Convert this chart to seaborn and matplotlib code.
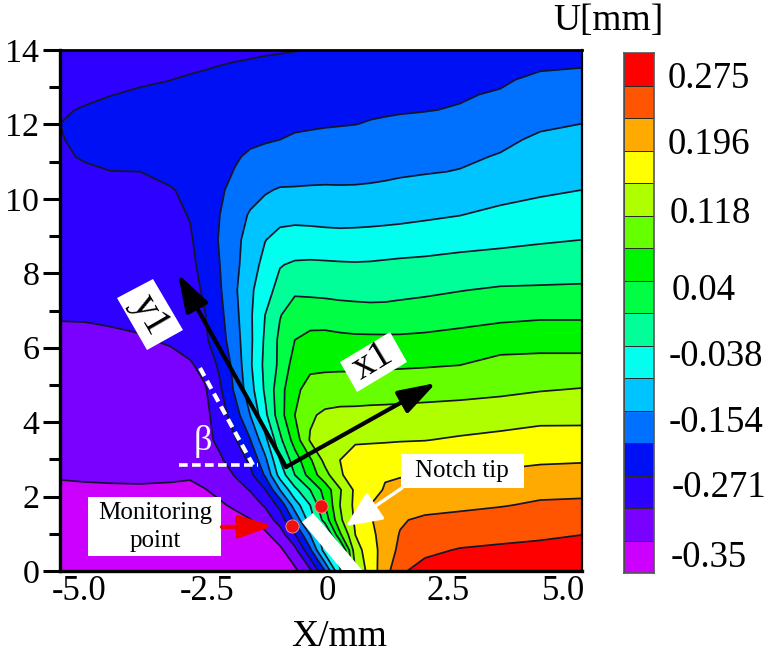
import numpy as np
import matplotlib
matplotlib.use("Agg")
import matplotlib.pyplot as plt
from matplotlib.colors import ListedColormap, BoundaryNorm
from matplotlib.patches import Polygon, Rectangle
from matplotlib.transforms import Affine2D
import seaborn as sns

# Sampling positions of the displacement field
x_mm = [-5.52, -5.0, -4.48, -3.85, -3.23, -2.81, -2.5, -2.19, -1.88, -1.56, -1.25, -0.94, -0.63,
        -0.31, 0.0, 0.31, 0.63, 0.94, 1.25, 1.56, 2.08, 2.81, 3.65, 4.48, 5.35]
y_mm = [14.0, 13.6, 13.2, 12.8, 12.39, 12.02, 11.59, 11.13, 10.73, 10.24, 9.57, 8.9, 8.23, 7.55,
        6.88, 6.21, 5.54, 4.87, 4.19, 3.52, 2.98, 2.58, 2.18, 1.77, 1.37, 0.97, 0.56, 0.0]

# Field expressed in contour-band units (0 = U_MIN, one unit = U_STEP), one list per height
r_14_00 = [2.5,2.5,2.5,2.6,2.6,2.65,2.7,2.75,2.8,2.85,2.9,2.93,2.97,3.0,3.05,3.1,3.15,3.2,3.25,3.3,3.35,3.4,3.5,3.6,3.7]
r_13_60 = [2.6,2.65,2.7,2.75,2.8,2.87,2.93,2.99,3.05,3.1,3.15,3.2,3.25,3.3,3.35,3.4,3.43,3.45,3.5,3.55,3.6,3.7,3.8,3.85,3.95]
r_13_20 = [2.7,2.75,2.8,2.9,2.99,3.08,3.13,3.18,3.22,3.27,3.3,3.34,3.38,3.42,3.46,3.5,3.53,3.56,3.6,3.63,3.68,3.75,3.88,4.2,4.2]
r_12_80 = [2.8,2.88,2.98,3.1,3.18,3.25,3.3,3.35,3.4,3.43,3.47,3.5,3.53,3.57,3.6,3.63,3.67,3.7,3.74,3.78,3.83,3.93,4.08,4.38,4.45]
r_12_39 = [2.93,3.05,3.2,3.3,3.35,3.4,3.45,3.5,3.55,3.6,3.63,3.66,3.69,3.72,3.76,3.8,3.84,3.87,3.9,3.93,3.97,4.05,4.3,4.62,4.72]
r_12_02 = [3.0,3.2,3.35,3.45,3.5,3.55,3.6,3.65,3.7,3.75,3.78,3.82,3.87,3.9,3.93,3.95,3.98,4.05,4.1,4.15,4.2,4.33,4.55,4.88,5.0]
r_11_59 = [2.95,3.2,3.35,3.45,3.55,3.6,3.65,3.7,3.8,3.88,3.94,4.0,4.1,4.15,4.2,4.25,4.28,4.3,4.35,4.4,4.5,4.65,4.85,5.12,5.25]
r_11_13 = [2.8,3.12,3.28,3.4,3.5,3.6,3.7,3.8,3.93,4.1,4.2,4.3,4.37,4.42,4.47,4.5,4.53,4.57,4.6,4.65,4.75,4.88,5.05,5.35,5.5]
r_10_73 = [2.6,2.8,2.98,3.0,3.25,3.45,3.6,3.8,4.03,4.3,4.45,4.55,4.65,4.7,4.75,4.78,4.8,4.83,4.87,4.9,4.95,5.03,5.25,5.55,5.75]
r_10_24 = [2.4,2.5,2.6,2.75,2.93,3.2,3.5,3.85,4.3,4.6,4.9,5.08,5.08,5.1,5.1,5.08,5.08,5.1,5.13,5.2,5.3,5.42,5.6,5.82,6.0]
r_09_57 = [2.3,2.35,2.45,2.55,2.75,3.05,3.5,4.0,4.55,5.1,5.4,5.7,5.72,5.68,5.65,5.62,5.65,5.68,5.72,5.76,5.85,5.98,6.25,6.45,6.5]
r_08_90 = [2.25,2.28,2.35,2.45,2.65,2.9,3.45,4.08,4.75,5.35,5.97,6.3,6.4,6.4,6.35,6.33,6.33,6.35,6.38,6.42,6.5,6.65,6.78,6.9,7.0]
r_08_23 = [2.2,2.22,2.3,2.4,2.55,2.8,3.3,4.0,4.75,5.55,6.3,6.95,7.12,7.15,7.13,7.1,7.08,7.1,7.15,7.2,7.25,7.35,7.42,7.5,7.55]
r_07_55 = [2.15,2.18,2.22,2.3,2.45,2.65,3.15,3.9,4.85,5.8,6.65,7.3,7.85,7.8,7.75,7.72,7.7,7.7,7.75,7.8,7.85,7.97,8.1,8.12,8.15]
r_06_88 = [2.1,2.1,2.13,2.2,2.35,2.55,2.97,3.75,4.7,5.85,7.0,7.95,8.45,8.5,8.5,8.4,8.35,8.3,8.27,8.3,8.4,8.55,8.75,8.85,8.85]
r_06_21 = [1.7,1.75,1.85,1.93,2.1,2.4,2.85,3.6,4.55,5.8,7.15,8.2,9.0,9.3,9.32,9.25,9.2,9.2,9.2,9.2,9.25,9.4,9.55,9.6,9.6]
r_05_54 = [1.5,1.5,1.55,1.6,1.7,1.9,2.3,3.2,4.3,5.85,7.25,8.2,9.45,9.85,9.85,9.85,9.85,9.85,9.88,9.9,9.93,9.99,10.3,10.35,10.35]
r_04_87 = [1.4,1.4,1.42,1.45,1.55,1.65,1.9,2.85,4.15,5.6,7.15,8.6,9.85,10.25,10.35,10.4,10.4,10.45,10.5,10.5,10.55,10.65,10.8,10.95,11.05]
r_04_19 = [1.35,1.35,1.38,1.4,1.45,1.55,1.75,2.5,3.5,5.0,6.75,8.6,10.0,10.85,11.2,11.3,11.32,11.35,11.35,11.4,11.45,11.5,11.55,11.7,11.75]
r_03_52 = [1.3,1.3,1.33,1.35,1.4,1.5,1.7,2.25,2.9,3.95,5.7,7.75,9.45,11.1,11.55,11.8,11.88,11.9,11.92,11.95,11.98,12.1,12.25,12.4,12.35]
r_02_98 = [1.25,1.25,1.25,1.28,1.3,1.4,1.6,1.85,2.5,3.15,4.75,7.0,8.5,9.85,11.3,12.0,12.4,12.45,12.5,12.55,12.58,12.63,12.7,12.85,12.92]
r_02_58 = [1.1,1.15,1.15,1.15,1.12,1.08,1.2,1.5,2.05,2.75,4.1,6.4,8.0,9.4,10.65,11.85,12.6,12.8,12.9,12.93,12.97,13.05,13.2,13.35,13.35]
r_02_18 = [0.8,0.83,0.88,0.9,0.88,0.85,0.98,1.15,1.6,2.05,2.95,5.0,6.75,8.0,9.4,10.9,12.2,12.55,13.1,13.3,13.4,13.5,13.6,13.7,13.75]
r_01_77 = [0.6,0.62,0.65,0.68,0.7,0.72,0.75,0.92,1.1,1.55,2.1,3.3,5.5,7.0,9.0,11.0,12.25,13.0,13.3,13.4,13.6,13.75,13.93,14.15,14.2]
r_01_37 = [0.45,0.47,0.5,0.53,0.55,0.58,0.6,0.68,0.8,0.95,1.45,2.4,4.25,6.5,8.4,10.8,12.15,12.9,13.5,13.9,14.2,14.35,14.5,14.7,14.8]
r_00_97 = [0.3,0.32,0.35,0.35,0.4,0.42,0.45,0.5,0.55,0.62,0.8,1.5,2.9,5.0,6.6,9.8,12.0,12.7,13.5,14.05,14.3,14.4,14.55,14.75,15.0]
r_00_56 = [0.25,0.25,0.25,0.28,0.3,0.3,0.33,0.35,0.4,0.45,0.55,0.8,1.7,3.8,6.5,7.5,11.6,12.5,13.5,14.2,14.7,15.1,15.3,15.45,15.55]
r_00_00 = [0.2,0.2,0.2,0.22,0.22,0.25,0.25,0.28,0.3,0.33,0.38,0.5,0.8,1.8,4.0,6.9,11.0,12.45,13.6,14.8,15.5,15.6,15.65,15.7,15.75]

U_MIN = -0.35
U_STEP = 0.039
N_BANDS = 16

# Band colours from the lowest to the highest displacement
band_colors = ["#cc00ff", "#7a00ff", "#2e00ff", "#0010f5", "#0070ff", "#00c4ff", "#00ffee", "#00ff99",
               "#00ff44", "#00f500", "#66ff00", "#b0ff00", "#ffff00", "#ffaa00", "#ff5500", "#ff0000"]

colorbar_labels = ["0.275", "0.196", "0.118", "0.04", "-0.038", "-0.154", "-0.271", "-0.35"]
colorbar_label_x = [668, 668, 670, 672, 669, 669, 672, 671]
colorbar_label_y = [79, 145, 214, 291, 357, 423, 488, 558]

x_tick_labels = ["-5.0", "-2.5", "0", "2.5", "5.0"]
x_tick_pos = [-5.12, -2.46, 0.04, 2.56, 4.96]
y_major = [0, 2, 4, 6, 8, 10, 12, 14]
y_minor = [1, 3, 5, 7, 9, 11, 13]

sns.set_theme(style="ticks")
plt.rcParams["font.family"] = ["Liberation Serif", "DejaVu Serif"]

W, H = 768, 655
fig = plt.figure(figsize=(W / 100, H / 100), dpi=100, facecolor="white")
ax = fig.add_axes([60 / W, 1 - 571 / H, (582 - 60) / W, (571 - 50) / H])

# Overlay annotations are placed in figure pixels measured from the top-left corner
px = Affine2D().scale(1 / W, -1 / H).translate(0, 1) + fig.transFigure

rows = [r_14_00, r_13_60, r_13_20, r_12_80, r_12_39, r_12_02, r_11_59, r_11_13, r_10_73, r_10_24,
        r_09_57, r_08_90, r_08_23, r_07_55, r_06_88, r_06_21, r_05_54, r_04_87, r_04_19, r_03_52,
        r_02_98, r_02_58, r_02_18, r_01_77, r_01_37, r_00_97, r_00_56, r_00_00]
U = U_MIN + U_STEP * np.array(rows)[::-1]
Y = np.array(y_mm)[::-1]
levels = U_MIN + U_STEP * np.arange(N_BANDS + 1)

cmap = ListedColormap(sns.color_palette(band_colors, n_colors=N_BANDS))
norm = BoundaryNorm(levels, cmap.N)
ax.contourf(x_mm, Y, U, levels=levels, cmap=cmap, norm=norm, antialiased=True)
ax.contour(x_mm, Y, U, levels=levels[1:-1], colors="#15152a", linewidths=1.25, linestyles="solid")

ax.set_xlim(-5.52, 5.35)
ax.set_ylim(0, 14)
ax.set_xticks(x_tick_pos, x_tick_labels, fontsize=25)
ax.set_yticks(y_major, [str(v) for v in y_major], fontsize=24.5)
ax.set_yticks(y_minor, minor=True)
ax.tick_params(axis="x", length=0, pad=3, colors="black")
ax.tick_params(axis="y", which="major", length=12, width=2.2, pad=3, colors="black")
ax.tick_params(axis="y", which="minor", length=8, width=2.2, colors="black")
for side, width in {"left": 2.4, "bottom": 2.4, "top": 2.0, "right": 1.6}.items():
    ax.spines[side].set_visible(True)
    ax.spines[side].set_linewidth(width)
    ax.spines[side].set_color("black")
fig.text(339, 637, "X/mm", transform=px, ha="center", va="center", fontsize=27, color="black")

# Notch slot
ax.add_patch(Polygon([(302, 522), (313, 513), (362, 570), (342, 570)], closed=True,
                     transform=px, facecolor="white", edgecolor="none", zorder=4))

# Local x1 / y1 frame
origin = (286, 467)
for tip in [(178, 274), (436, 383)]:
    ax.annotate("", xy=tip, xytext=origin, xycoords=px, textcoords=px, zorder=6,
                arrowprops=dict(arrowstyle="-|>,head_length=2.3,head_width=0.75", mutation_scale=10,
                                lw=3.0, color="black", shrinkA=0, shrinkB=0))
ax.add_patch(Polygon([(153, 279), (183, 330), (147, 350), (117, 298)], closed=True, transform=px,
                     facecolor="white", edgecolor="none", zorder=5))
ax.add_patch(Polygon([(340, 362), (390, 332), (407, 362), (357, 392)], closed=True, transform=px,
                     facecolor="white", edgecolor="none", zorder=5))
ax.text(150, 315, "y1", transform=px, rotation=-60, rotation_mode="anchor", ha="center", va="center",
        fontsize=29, color="black", zorder=6)
ax.text(373, 362, "x1", transform=px, rotation=31, rotation_mode="anchor", ha="center", va="center",
        fontsize=29, color="black", zorder=6)

# Inclination angle marker
ax.plot([200, 253], [368, 465], transform=px, color="white", lw=3, ls=(0, (2.2, 1.3)), zorder=5)
ax.plot([179, 258], [465, 465], transform=px, color="white", lw=2.6, ls=(0, (2.4, 1.2)), zorder=5)
ax.text(203, 441, "β", transform=px, ha="center", va="center", fontsize=26, color="white", zorder=5)

# Callouts
ax.add_patch(Rectangle((88, 497), 133, 59, transform=px, facecolor="white", edgecolor="none", zorder=5))
ax.text(155, 527, "Monitoring\npoint", transform=px, ha="center", va="center", fontsize=18,
        linespacing=1.35, color="black", zorder=6)
ax.annotate("", xy=(273, 526), xytext=(222, 527), xycoords=px, textcoords=px, zorder=6,
            arrowprops=dict(arrowstyle="-|>,head_length=2.1,head_width=0.7", mutation_scale=10,
                            lw=3.0, color="#f00000", shrinkA=0, shrinkB=0))
ax.add_patch(Rectangle((401, 454), 123, 34, transform=px, facecolor="white", edgecolor="none", zorder=5))
ax.text(462, 471, "Notch tip", transform=px, ha="center", va="center", fontsize=18, color="black", zorder=6)
ax.annotate("", xy=(346, 526), xytext=(402, 488), xycoords=px, textcoords=px, zorder=6,
            arrowprops=dict(arrowstyle="-|>,head_length=2.2,head_width=1.0", mutation_scale=10,
                            lw=2.4, color="white", shrinkA=0, shrinkB=0))
ax.plot([292, 321], [526, 506], transform=px, ls="none", marker="o", ms=9.5, mfc="#f01010",
        mec="#ff9090", mew=0.6, zorder=7)

# Colour key drawn as a single-column heat map
cax = fig.add_axes([624 / W, 1 - 573 / H, 30 / W, 520 / H])
sns.heatmap(np.arange(N_BANDS)[::-1].reshape(-1, 1), cmap=cmap, vmin=-0.5, vmax=N_BANDS - 0.5, cbar=False,
            linewidths=0.6, linecolor="#2a2a2a", xticklabels=False, yticklabels=False, ax=cax)
for spine in cax.spines.values():
    spine.set_visible(True)
    spine.set_color("#555555")
    spine.set_linewidth(1.2)
cax.tick_params(length=0)

for text, lx, ly in zip(colorbar_labels, colorbar_label_x, colorbar_label_y):
    fig.text(lx, ly, text, transform=px, ha="left", va="center", fontsize=26.5, color="black")
fig.text(608, 21, "U[mm]", transform=px, ha="center", va="center", fontsize=27, color="black")

fig.savefig("out.png", dpi=100, facecolor="white")
